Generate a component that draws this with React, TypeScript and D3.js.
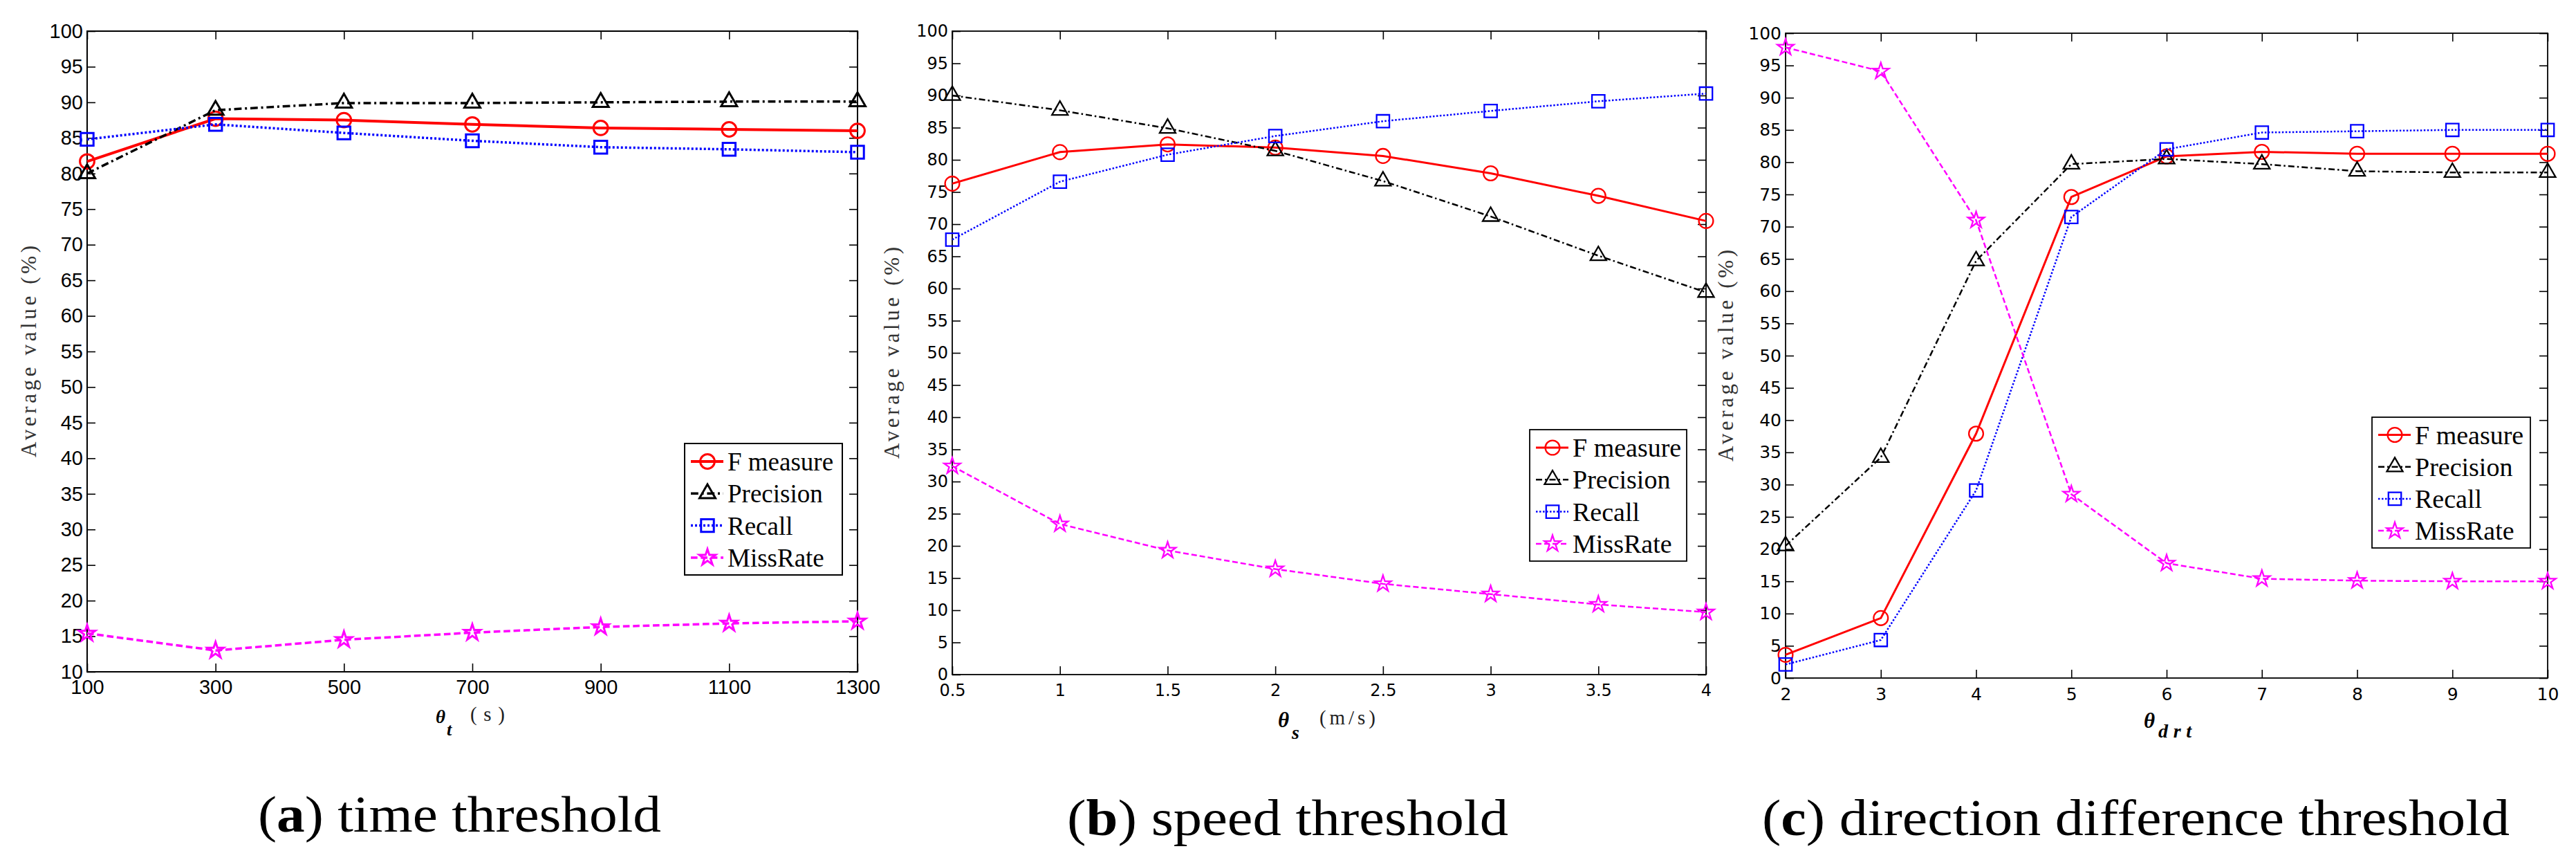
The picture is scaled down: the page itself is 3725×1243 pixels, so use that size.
import React, { useEffect, useRef } from 'react';
import * as d3 from 'd3';

// (a) time threshold
const timeX = [100, 300, 500, 700, 900, 1100, 1300];
const timeF = [81.7, 87.7, 87.5, 86.9, 86.4, 86.2, 86.0];
const timeP = [80.0, 88.9, 89.9, 89.9, 90.0, 90.1, 90.1];
const timeR = [84.8, 86.9, 85.7, 84.6, 83.7, 83.4, 83.0];
const timeM = [15.4, 13.0, 14.5, 15.5, 16.3, 16.8, 17.1];

// (b) speed threshold
const speedX = [0.5, 1, 1.5, 2, 2.5, 3, 3.5, 4];
const speedF = [76.3, 81.2, 82.4, 81.9, 80.6, 77.9, 74.4, 70.5];
const speedP = [90.0, 87.7, 84.9, 81.4, 76.7, 71.2, 65.1, 59.4];
const speedR = [67.6, 76.6, 80.8, 83.7, 86.0, 87.6, 89.1, 90.3];
const speedM = [32.4, 23.4, 19.3, 16.4, 14.1, 12.5, 10.9, 9.7];

// (c) direction difference threshold
const dirX = [2, 3, 4, 5, 6, 7, 8, 9, 10];
const dirF = [3.6, 9.3, 37.9, 74.6, 80.9, 81.6, 81.3, 81.3, 81.3];
const dirP = [20.5, 34.2, 64.7, 79.7, 80.5, 79.7, 78.6, 78.4, 78.4];
const dirR = [2.1, 5.9, 29.1, 71.5, 82.0, 84.6, 84.8, 85.0, 85.0];
const dirM = [97.8, 94.1, 71.0, 28.5, 17.8, 15.4, 15.1, 15.0, 15.0];

const yTicksA = [10, 15, 20, 25, 30, 35, 40, 45, 50, 55, 60, 65, 70, 75, 80, 85, 90, 95, 100];
const yTicksBC = [0, 5, 10, 15, 20, 25, 30, 35, 40, 45, 50, 55, 60, 65, 70, 75, 80, 85, 90, 95, 100];

const seriesNames = ['F measure', 'Precision', 'Recall', 'MissRate'];
const seriesColors = ['#ff0000', '#000000', '#0000ff', '#ff00ff'];
const seriesMarkers = ['circle', 'triangle', 'square', 'star'];

interface Panel {
  xs: number[];
  series: number[][];
  yDomain: [number, number];
  yTicks: number[];
  left: number; right: number; top: number; bottom: number;
  tickFont: string; tickSize: number; xPad: number;
  lwMain: number; lw: number; mw: number; dashScale: number; frameW: number;
  legend: { x: number; y: number; w: number; h: number; off: number; step: number; font: number };
  sym: string; symSize: number; symX: number; symY: number;
  sub: string; subSize: number; subX: number; subY: number; subW: number;
  unit: string; unitX: number; unitY: number; unitW: number;
  capLetter: string; capRest: string; capX: number; capY: number; capW: number;
  yLabelX: number;
}

const panels: Panel[] = [
  {
    xs: timeX, series: [timeF, timeP, timeR, timeM], yDomain: [10, 100], yTicks: yTicksA,
    left: 126, right: 1240, top: 45, bottom: 971,
    tickFont: 'Liberation Sans, Arial, sans-serif', tickSize: 29, xPad: 11,
    lwMain: 4, lw: 3.5, mw: 3, dashScale: 1.2, frameW: 2,
    legend: { x: 990, y: 641, w: 228, h: 190, off: 26, step: 46.3, font: 37 },
    sym: 'θ', symSize: 27, symX: 630, symY: 1045,
    sub: 't', subSize: 26, subX: 646, subY: 1063, subW: 0,
    unit: '(s)', unitX: 680, unitY: 1042, unitW: 50,
    capLetter: 'a', capRest: ') time threshold', capX: 373, capY: 1202, capW: 583,
    yLabelX: 52,
  },
  {
    xs: speedX, series: [speedF, speedP, speedR, speedM], yDomain: [0, 100], yTicks: yTicksBC,
    left: 1377, right: 2467, top: 45, bottom: 975,
    tickFont: 'DejaVu Sans, sans-serif', tickSize: 24, xPad: 14,
    lwMain: 3, lw: 2.5, mw: 2.3, dashScale: 1, frameW: 1.8,
    legend: { x: 2212, y: 621, w: 227, h: 190, off: 26, step: 46.3, font: 38 },
    sym: 'θ', symSize: 31, symX: 1848, symY: 1051,
    sub: 's', subSize: 28, subX: 1868, subY: 1068, subW: 0,
    unit: '(m/s)', unitX: 1908, unitY: 1047, unitW: 81,
    capLetter: 'b', capRest: ') speed threshold', capX: 1543, capY: 1207, capW: 638,
    yLabelX: 1300,
  },
  {
    xs: dirX, series: [dirF, dirP, dirR, dirM], yDomain: [0, 100], yTicks: yTicksBC,
    left: 2582, right: 3684, top: 48, bottom: 980,
    tickFont: 'DejaVu Sans, sans-serif', tickSize: 25, xPad: 14,
    lwMain: 3, lw: 2.5, mw: 2.3, dashScale: 1, frameW: 1.8,
    legend: { x: 3430, y: 603, w: 229, h: 189, off: 25.5, step: 46.2, font: 38 },
    sym: 'θ', symSize: 31, symX: 3100, symY: 1052,
    sub: 'drt', subSize: 28, subX: 3121, subY: 1066, subW: 48,
    unit: '', unitX: 0, unitY: 0, unitW: 0,
    capLetter: 'c', capRest: ') direction difference threshold', capX: 2548, capY: 1207, capW: 1081,
    yLabelX: 2506,
  },
];

function markerPath(kind: string): string {
  switch (kind) {
    case 'circle': return d3.symbol(d3.symbolCircle, 340)() as string;
    case 'triangle': return d3.symbol(d3.symbolTriangle, 230)() as string;
    case 'square': return d3.symbol(d3.symbolSquare, 340)() as string;
    default: return d3.symbol(d3.symbolStar, 170)() as string;
  }
}

function dashFor(i: number, s: number): string {
  const base = [[], [9, 4, 2.5, 4], [2.5, 2.5], [8, 4]][i];
  return base.map(v => v * s).join(',');
}

const App: React.FC = () => {
  const svgRef = useRef<SVGSVGElement>(null);

  useEffect(() => {
    document.body.style.margin = '0';
    const svg = d3.select(svgRef.current);
    svg.selectAll('*').remove();

    panels.forEach(p => {
      const g = svg.append('g');
      const x = d3.scaleLinear().domain([p.xs[0], p.xs[p.xs.length - 1]]).range([p.left, p.right]);
      const y = d3.scaleLinear().domain(p.yDomain).range([p.bottom, p.top]);

      const styleAxis = (sel: any) => {
        sel.select('.domain').remove();
        sel.selectAll('.tick line').attr('stroke', '#000').attr('stroke-width', 1.6);
        sel.selectAll('text').attr('fill', '#000');
        sel.attr('font-family', p.tickFont).attr('font-size', p.tickSize);
      };

      g.append('g').attr('transform', `translate(0,${p.bottom})`)
        .call(d3.axisBottom(x).tickValues(p.xs).tickFormat(d => String(d)).tickSizeInner(-12).tickSizeOuter(0).tickPadding(p.xPad))
        .call(styleAxis);
      g.append('g').attr('transform', `translate(0,${p.top})`)
        .call(d3.axisTop(x).tickValues(p.xs).tickFormat(() => '').tickSizeInner(-12).tickSizeOuter(0))
        .call(styleAxis);
      g.append('g').attr('transform', `translate(${p.left},0)`)
        .call(d3.axisLeft(y).tickValues(p.yTicks).tickFormat(d => String(d)).tickSizeInner(-12).tickSizeOuter(0).tickPadding(6))
        .call(styleAxis);
      g.append('g').attr('transform', `translate(${p.right},0)`)
        .call(d3.axisRight(y).tickValues(p.yTicks).tickFormat(() => '').tickSizeInner(-12).tickSizeOuter(0))
        .call(styleAxis);

      g.append('rect')
        .attr('x', p.left).attr('y', p.top)
        .attr('width', p.right - p.left).attr('height', p.bottom - p.top)
        .attr('fill', 'none').attr('stroke', '#000').attr('stroke-width', p.frameW);

      const line = d3.line<number>().x((_, i) => x(p.xs[i])).y(d => y(d));

      p.series.forEach((vals, si) => {
        g.append('path')
          .attr('d', line(vals))
          .attr('fill', 'none')
          .attr('stroke', seriesColors[si])
          .attr('stroke-width', si === 0 ? p.lwMain : p.lw)
          .attr('stroke-dasharray', dashFor(si, p.dashScale));
        g.selectAll(null)
          .data(vals)
          .enter()
          .append('path')
          .attr('d', markerPath(seriesMarkers[si]))
          .attr('transform', (d, i) => `translate(${x(p.xs[i])},${y(d)})`)
          .attr('fill', 'none')
          .attr('stroke', seriesColors[si])
          .attr('stroke-width', p.mw);
      });

      // legend
      const L = p.legend;
      const lg = g.append('g');
      lg.append('rect')
        .attr('x', L.x).attr('y', L.y).attr('width', L.w).attr('height', L.h)
        .attr('fill', '#fff').attr('stroke', '#000').attr('stroke-width', p.frameW);
      seriesNames.forEach((name, i) => {
        const cy = L.y + L.off + i * L.step;
        lg.append('line')
          .attr('x1', L.x + 9).attr('x2', L.x + 56).attr('y1', cy).attr('y2', cy)
          .attr('stroke', seriesColors[i])
          .attr('stroke-width', i === 0 ? p.lwMain : p.lw)
          .attr('stroke-dasharray', dashFor(i, p.dashScale));
        lg.append('path')
          .attr('d', markerPath(seriesMarkers[i]))
          .attr('transform', `translate(${L.x + 33},${cy})`)
          .attr('fill', 'none').attr('stroke', seriesColors[i]).attr('stroke-width', p.mw);
        lg.append('text')
          .attr('x', L.x + 62).attr('y', cy + 13)
          .attr('font-family', 'Liberation Serif, serif').attr('font-size', L.font)
          .attr('fill', '#000')
          .text(name);
      });

      // y axis label
      g.append('text')
        .attr('transform', `translate(${p.yLabelX},${(p.top + p.bottom) / 2}) rotate(-90)`)
        .attr('x', -153)
        .attr('font-family', 'Liberation Serif, serif').attr('font-size', 31)
        .attr('fill', '#333')
        .attr('textLength', 306).attr('lengthAdjust', 'spacing')
        .text('Average value (%)');

      // x axis label
      g.append('text')
        .attr('x', p.symX).attr('y', p.symY)
        .attr('font-family', 'Liberation Serif, serif').attr('font-size', p.symSize)
        .attr('font-weight', 'bold').attr('font-style', 'italic')
        .text(p.sym);
      const sub = g.append('text')
        .attr('x', p.subX).attr('y', p.subY)
        .attr('font-family', 'Liberation Serif, serif').attr('font-size', p.subSize)
        .attr('font-weight', 'bold').attr('font-style', 'italic')
        .text(p.sub);
      if (p.subW) sub.attr('textLength', p.subW).attr('lengthAdjust', 'spacing');
      if (p.unit) {
        g.append('text')
          .attr('x', p.unitX).attr('y', p.unitY)
          .attr('font-family', 'Liberation Serif, serif').attr('font-size', 29)
          .attr('fill', '#222')
          .attr('textLength', p.unitW).attr('lengthAdjust', 'spacing')
          .text(p.unit);
      }

      // caption
      const cap = g.append('text')
        .attr('x', p.capX).attr('y', p.capY)
        .attr('font-family', 'Liberation Serif, serif').attr('font-size', 74)
        .attr('fill', '#000')
        .attr('textLength', p.capW).attr('lengthAdjust', 'spacingAndGlyphs');
      cap.append('tspan').text('(');
      cap.append('tspan').attr('font-weight', 'bold').text(p.capLetter);
      cap.append('tspan').text(p.capRest);
    });
  }, []);

  return (
    <svg ref={svgRef} width={3725} height={1243} style={{ display: 'block', background: '#fff' }} />
  );
};

export default App;
